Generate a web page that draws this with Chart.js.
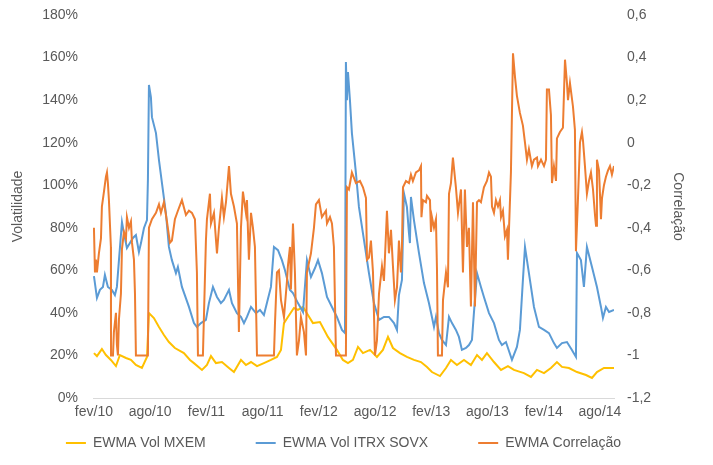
<!DOCTYPE html>
<html lang="pt">
<head>
<meta charset="UTF-8">
<script src="https://cdn.jsdelivr.net/npm/chart.js"></script>
<title>EWMA Volatilidade e Correlação</title>
<style>
  body { margin: 0; background: #fff; }
</style>
</head>
<body>
<canvas id="myChart" width="713" height="465"></canvas>
<script>
// x = months since fev/10, y = value
const xLabels = ['fev/10', 'ago/10', 'fev/11', 'ago/11', 'fev/12', 'ago/12', 'fev/13', 'ago/13', 'fev/14', 'ago/14'];
const seriesNames = ['EWMA Vol MXEM', 'EWMA Vol ITRX SOVX', 'EWMA Correlação'];

// EWMA Vol MXEM (%)
const volMXEM = [
  [0,21.1],[0.32,19.7],[0.85,23.0],[1.28,20.2],[1.81,17.9],[2.35,15.0],[2.77,20.2],[3.42,18.8],[3.95,17.9],
  [4.48,15.5],[5.12,14.1],[5.66,19.3],[5.87,39.9],[6.40,37.6],[6.94,33.4],[7.47,29.6],[8.00,26.3],[8.64,23.5],
  [9.60,21.1],[10.25,17.9],[10.67,16.4],[11.53,13.2],[12.06,15.5],[12.49,19.7],[13.02,16.4],[13.66,16.9],
  [14.41,14.1],[14.94,12.2],[15.69,17.9],[16.22,15.5],[16.76,16.9],[17.40,15.0],[18.14,16.4],[18.89,17.9],
  [19.53,19.3],[19.96,22.6],[20.28,35.2],[20.70,38.1],[21.34,42.3],[21.77,41.4],[22.31,42.8],[22.84,39.0],
  [23.37,35.2],[24.12,35.7],[24.97,28.7],[25.93,22.6],[26.57,17.9],[27.11,16.4],[27.64,17.9],[28.18,24.0],
  [28.71,21.1],[29.46,22.6],[30.20,19.3],[30.84,22.6],[31.38,28.7],[31.91,23.5],[32.66,21.1],[33.40,19.3],
  [34.15,17.9],[34.90,16.9],[35.54,14.6],[36.07,12.2],[36.93,10.3],[37.57,14.1],[38.10,17.9],[38.74,15.5],
  [39.49,17.9],[40.23,15.5],[40.88,20.2],[41.41,17.9],[41.94,21.1],[42.69,16.9],[43.44,13.2],[44.18,15.0],
  [44.82,13.2],[45.89,11.7],[46.64,9.9],[47.28,13.2],[48.03,11.7],[48.77,14.1],[49.41,16.9],[49.95,14.6],
  [50.69,14.1],[51.55,12.2],[52.51,10.8],[53.15,9.4],[53.68,12.2],[54.43,14.1],[55.5,14.1]
];

// EWMA Vol ITRX SOVX (%)
const volSOVX = [
  [0,57.3],[0.32,47.0],[0.64,50.8],[0.96,52.2],[1.17,57.8],[1.49,52.2],[1.92,50.8],[2.24,48.4],[2.45,52.2],
  [2.67,64.8],[2.99,82.7],[3.20,77.5],[3.52,70.5],[3.84,72.8],[4.16,75.2],[4.48,76.6],[4.80,68.6],[5.02,72.8],
  [5.34,79.9],[5.66,83.6],[5.76,102.4],[5.87,147.1],[6.08,141.4],[6.19,132.0],[6.62,124.5],[6.94,111.8],
  [7.26,101.0],[7.68,86.9],[8.00,71.0],[8.32,64.8],[8.75,58.7],[8.96,61.6],[9.39,52.2],[10.14,42.8],
  [10.67,35.2],[10.99,33.4],[11.42,35.2],[11.95,36.7],[12.27,44.6],[12.70,52.2],[13.13,47.5],[13.55,44.6],
  [13.87,46.1],[14.41,50.8],[14.73,44.6],[15.26,39.9],[15.69,38.1],[16.01,35.2],[16.33,38.1],[16.76,42.8],
  [17.29,39.9],[17.72,41.4],[18.14,39.0],[18.46,44.6],[18.89,52.2],[19.21,71.0],[19.64,69.5],[20.06,64.8],
  [20.38,60.2],[20.92,50.8],[21.24,49.3],[21.77,44.6],[22.31,40.4],[22.73,64.8],[23.16,56.9],[23.59,61.1],
  [23.91,64.8],[24.33,58.7],[24.87,47.5],[25.40,42.8],[25.93,38.1],[26.47,32.0],[26.79,30.5],[26.89,157.9],
  [27.00,140.0],[27.11,153.2],[27.32,140.0],[27.53,124.5],[27.96,105.7],[28.28,89.8],[28.82,74.2],[29.35,58.7],
  [29.88,44.6],[30.42,36.7],[30.95,38.1],[31.48,38.1],[32.02,35.2],[32.34,32.0],[32.55,48.4],[32.87,55.5],
  [33.08,96.3],[33.40,89.8],[33.62,77.5],[33.72,72.8],[33.83,94.5],[34.15,83.6],[34.69,68.1],[35.22,54.0],
  [35.75,44.6],[36.07,38.1],[36.29,33.4],[36.50,38.1],[36.82,30.5],[37.14,27.3],[37.57,24.9],[37.89,38.1],
  [38.21,35.2],[38.63,32.0],[38.95,28.7],[39.27,22.6],[39.70,23.5],[40.02,24.9],[40.34,27.3],[40.55,39.9],
  [40.88,58.7],[41.30,52.2],[41.62,47.5],[42.16,39.9],[42.69,35.2],[43.22,27.3],[43.54,24.9],[43.97,26.3],
  [44.61,17.9],[45.14,24.0],[45.46,32.0],[45.78,55.5],[46.00,71.0],[46.42,58.7],[46.96,42.8],[47.49,33.4],
  [48.03,32.0],[48.56,30.5],[49.09,25.8],[49.41,23.5],[49.95,25.8],[50.48,26.3],[51.01,22.6],[51.44,19.3],
  [51.55,68.1],[51.97,64.8],[52.29,52.2],[52.61,71.0],[53.15,61.6],[53.68,52.2],[54.11,42.8],[54.32,37.6],
  [54.64,42.8],[54.97,40.4],[55.5,41.4]
];

// EWMA Correlação
const correl = [
  [0,-0.40],[0.11,-0.61],[0.21,-0.55],[0.32,-0.61],[0.53,-0.52],[0.75,-0.45],[0.85,-0.30],[1.07,-0.23],
  [1.28,-0.16],[1.39,-0.14],[1.49,-0.19],[1.60,-0.27],[1.81,-0.49],[1.82,-1],[2.03,-1],[2.13,-0.89],
  [2.35,-0.80],[2.45,-0.95],[2.56,-1],[2.67,-0.83],[2.88,-0.71],[2.99,-0.50],[3.20,-0.42],[3.42,-0.45],
  [3.52,-0.35],[3.74,-0.40],[3.95,-0.37],[4.06,-0.47],[4.27,-0.55],[4.38,-0.71],[4.48,-1],[5.76,-1],
  [5.87,-0.40],[6.19,-0.36],[6.62,-0.33],[6.94,-0.29],[7.15,-0.33],[7.47,-0.28],[7.79,-0.37],[8.11,-0.47],
  [8.32,-0.46],[8.64,-0.36],[8.96,-0.32],[9.39,-0.27],[9.82,-0.34],[10.14,-0.32],[10.46,-0.33],[10.78,-0.36],
  [10.99,-0.61],[11.10,-1],[11.63,-1],[11.95,-0.46],[12.06,-0.36],[12.38,-0.24],[12.49,-0.38],[12.81,-0.33],
  [13.13,-0.52],[13.34,-0.40],[13.66,-0.26],[13.87,-0.35],[14.09,-0.28],[14.41,-0.11],[14.62,-0.24],
  [14.94,-0.30],[15.26,-0.38],[15.47,-0.89],[15.69,-0.40],[15.90,-0.23],[16.22,-0.33],[16.33,-0.27],
  [16.54,-0.55],[16.76,-0.33],[16.97,-0.40],[17.18,-0.49],[17.40,-1],[19.21,-1],[19.32,-0.85],[19.53,-0.61],
  [19.74,-0.60],[19.96,-0.74],[20.28,-0.82],[20.60,-0.65],[20.70,-0.58],[20.92,-0.49],[21.02,-0.69],
  [21.24,-0.38],[21.45,-0.61],[21.66,-1],[21.88,-0.93],[22.09,-0.82],[22.41,-0.89],[22.63,-1],[22.73,-0.61],
  [23.16,-0.52],[23.48,-0.40],[23.69,-0.29],[24.01,-0.27],[24.33,-0.35],[24.76,-0.32],[24.87,-0.38],
  [25.19,-0.35],[25.40,-0.38],[25.61,-0.49],[25.83,-1],[26.89,-1],[27.00,-0.21],[27.21,-0.22],[27.53,-0.14],
  [27.96,-0.19],[28.39,-0.18],[28.71,-0.21],[29.03,-0.26],[29.14,-0.55],[29.35,-0.54],[29.56,-0.46],
  [29.78,-0.61],[29.99,-1],[30.20,-0.93],[30.42,-0.71],[30.74,-0.58],[30.95,-0.65],[31.27,-0.32],[31.48,-0.52],
  [31.70,-0.41],[31.91,-0.58],[32.12,-0.74],[32.34,-0.68],[32.44,-0.58],[32.55,-0.46],[32.76,-0.61],
  [32.87,-0.49],[32.98,-0.21],[33.30,-0.18],[33.62,-0.19],[33.83,-0.15],[34.04,-0.18],[34.36,-0.14],
  [34.69,-0.13],[34.90,-0.11],[34.95,-0.35],[35.11,-0.27],[35.43,-0.28],[35.54,-0.25],[35.86,-0.27],
  [35.97,-0.42],[36.07,-0.35],[36.29,-0.40],[36.50,-0.36],[36.61,-0.60],[36.71,-1],[37.14,-1],[37.25,-0.74],
  [37.57,-0.61],[37.78,-0.68],[37.89,-0.24],[38.10,-0.19],[38.31,-0.07],[38.63,-0.21],[38.85,-0.33],
  [39.17,-0.22],[39.38,-0.61],[39.59,-0.22],[39.81,-0.49],[40.02,-0.40],[40.23,-0.77],[40.45,-0.28],
  [40.66,-0.77],[40.88,-0.28],[41.09,-0.27],[41.30,-0.28],[41.62,-0.21],[41.94,-0.18],[42.16,-0.14],
  [42.37,-0.16],[42.48,-0.30],[42.69,-0.33],[42.90,-0.27],[43.12,-0.30],[43.33,-0.27],[43.44,-0.35],
  [43.65,-0.32],[43.86,-0.44],[44.08,-0.41],[44.18,-0.55],[44.40,-0.27],[44.50,-0.14],[44.72,0.42],
  [44.93,0.31],[45.14,0.22],[45.46,0.14],[45.78,0.08],[46.00,0.00],[46.21,-0.08],[46.42,-0.03],[46.74,-0.11],
  [46.96,-0.08],[47.28,-0.07],[47.39,-0.11],[47.71,-0.08],[48.03,-0.11],[48.24,-0.08],[48.34,0.25],
  [48.56,0.25],[48.77,0.13],[48.88,-0.19],[49.09,-0.11],[49.31,-0.18],[49.41,0.02],[49.73,0.05],[50.05,0.07],
  [50.27,0.39],[50.48,0.28],[50.59,0.20],[50.80,0.28],[51.12,0.17],[51.33,0.06],[51.44,-0.51],[51.65,-0.27],
  [51.87,0.00],[52.08,0.05],[52.19,0.01],[52.40,-0.11],[52.61,-0.24],[52.83,-0.18],[53.04,-0.14],[53.26,-0.22],
  [53.47,-0.34],[53.58,-0.39],[53.68,-0.08],[53.90,-0.13],[54.11,-0.36],[54.22,-0.26],[54.43,-0.20],
  [54.64,-0.16],[54.86,-0.13],[55.07,-0.11],[55.28,-0.15],[55.5,-0.11]
];

const toPoints = arr => arr.map(p => ({ x: p[0], y: p[1] }));
const gray = '#595959';
const tickFont = { family: 'Liberation Sans, Arial', size: 14 };

// the legend keeps wide gaps between entries (labels.padding), so pull it up under the axis labels
const legendLift = {
  id: 'legendLift',
  afterLayout(chart) {
    const lg = chart.legend;
    lg.top -= 36;
    lg.left -= 13;
    lg.right -= 13;
  }
};

const ctx = document.getElementById('myChart');
new Chart(ctx, {
  type: 'line',
  data: {
    datasets: [{
      label: seriesNames[0],
      data: toPoints(volMXEM),
      borderColor: '#FFC000',
      backgroundColor: '#FFC000',
      yAxisID: 'y',
      order: 2
    }, {
      label: seriesNames[1],
      data: toPoints(volSOVX),
      borderColor: '#5B9BD5',
      backgroundColor: '#5B9BD5',
      yAxisID: 'y',
      order: 1
    }, {
      label: seriesNames[2],
      data: toPoints(correl),
      borderColor: '#ED7D31',
      backgroundColor: '#ED7D31',
      yAxisID: 'y1',
      order: 0
    }]
  },
  plugins: [legendLift],
  options: {
    responsive: false,
    animation: false,
    layout: { padding: { top: 15, left: 0, right: 0, bottom: 0 } },
    elements: {
      point: { radius: 0 },
      line: { borderWidth: 2, tension: 0 }
    },
    plugins: {
      tooltip: { enabled: false },
      legend: {
        position: 'bottom',
        maxHeight: 43,
        labels: {
          color: gray,
          font: tickFont,
          boxWidth: 20,
          boxHeight: 2,
          padding: 50,
          sort: (a, b) => a.datasetIndex - b.datasetIndex,
          generateLabels: chart => Chart.defaults.plugins.legend.labels.generateLabels(chart)
            .map(l => Object.assign(l, { lineWidth: 0, fillStyle: l.strokeStyle }))
        }
      }
    },
    scales: {
      x: {
        type: 'linear',
        min: -0.1,
        max: 55.5,
        grid: { display: false, drawTicks: false },
        border: { display: true, color: '#D9D9D9' },
        afterBuildTicks: scale => { scale.ticks = xLabels.map((l, i) => ({ value: i * 6 })); },
        ticks: {
          color: gray,
          font: tickFont,
          padding: 6,
          maxRotation: 0,
          autoSkip: false,
          callback: (v) => xLabels[Math.round(v / 6)]
        },
        afterFit: scale => { scale.height = 24; }
      },
      y: {
        position: 'left',
        min: 0,
        max: 180,
        grid: { display: false, drawTicks: false },
        border: { display: false },
        ticks: {
          stepSize: 20,
          color: gray,
          font: tickFont,
          padding: 15,
          callback: v => v + '%'
        },
        title: {
          display: true,
          text: 'Volatilidade',
          color: gray,
          font: tickFont,
          padding: { top: 10, bottom: 0 }
        },
        afterFit: scale => { scale.width = 93; scale.paddingTop = 0; scale.paddingBottom = 0; }
      },
      y1: {
        position: 'right',
        min: -1.2,
        max: 0.6,
        grid: { display: false, drawTicks: false },
        border: { display: false },
        ticks: {
          stepSize: 0.2,
          color: gray,
          font: tickFont,
          padding: 13,
          callback: v => {
            const r = Math.round(v * 10) / 10;
            return (r === 0 ? '0' : String(r)).replace('.', ',');
          }
        },
        title: {
          display: true,
          text: 'Correlação',
          color: gray,
          font: tickFont,
          padding: { top: 27, bottom: 0 }
        },
        afterFit: scale => { scale.width = 99; scale.paddingTop = 0; scale.paddingBottom = 0; }
      }
    }
  }
});
</script>
</body>
</html>
